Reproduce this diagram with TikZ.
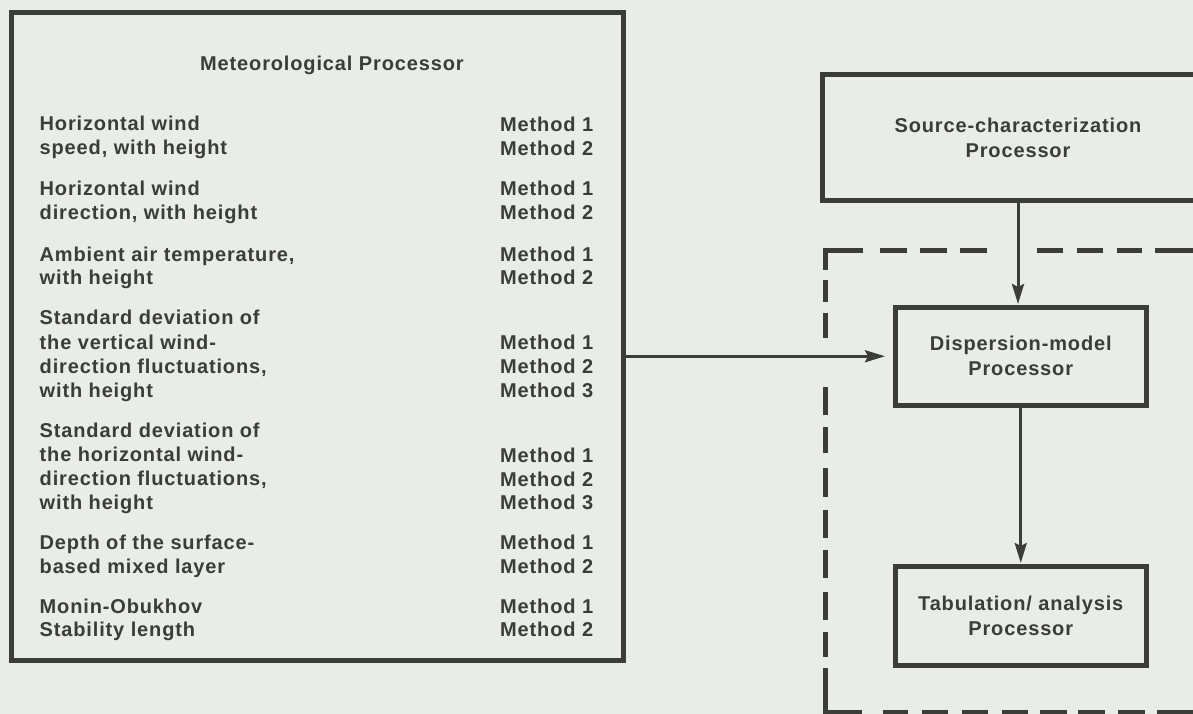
\documentclass[tikz,border=0pt]{standalone}
\usepackage{fontspec}
\newfontfamily\lab{Liberation Sans}[LetterSpace=4.3]
\usetikzlibrary{arrows.meta}
\definecolor{bg}{RGB}{233,236,231}
\definecolor{ink}{RGB}{60,60,58}
\begin{document}
\begin{tikzpicture}[x=1pt,y=-1pt,
  txt/.style={anchor=base west, inner sep=0pt, text=ink, font=\lab\bfseries\fontsize{20}{24}\selectfont},
  box/.style={draw=ink, line width=5pt, rectangle, inner sep=0pt, align=center, text=ink, font=\lab\bfseries\fontsize{20}{25}\selectfont},
  arr/.style={draw=ink, line width=3pt, -{Stealth[length=20pt,width=12pt,inset=3pt]}},
  dsh/.style={draw=ink, line width=5pt}]
\fill[bg] (0,0) rectangle (1193,714);
\useasboundingbox (0,0) rectangle (1193,714);
\clip (0,0) rectangle (1193,714);

% Meteorological processor
\node[box, minimum width=612.5pt, minimum height=647pt] (met) at (317.25,336.5) {};
\node[txt] (title) at (200,71) {Meteorological Processor};
\foreach \y/\t [count=\i] in {125/Horizontal wind, 149/{speed, with height},
  189/Horizontal wind, 213/{direction, with height},
  255/{Ambient air temperature,}, 278/with height,
  318/Standard deviation of, 343/the vertical wind-, 367/{direction fluctuations,}, 391/with height,
  431/Standard deviation of, 455/the horizontal wind-, 479/{direction fluctuations,}, 503/with height,
  543/Depth of the surface-, 567/based mixed layer,
  607/Monin-Obukhov, 630/Stability length}
  \node[txt] (L\i) at (39.5,\y+6) {\t};
\foreach \y/\t [count=\i] in {126/Method 1,150/Method 2,190/Method 1,213/Method 2,
  255/Method 1,278/Method 2,343/Method 1,367/Method 2,391/Method 3,
  456/Method 1,480/Method 2,503/Method 3,543/Method 1,567/Method 2,
  607/Method 1,630/Method 2}
  \node[txt] (M\i) at (500,\y+6) {\t};

% Right-hand processors
\node[box, minimum width=391pt, minimum height=126pt] (src) at (1018,137.5) {Source-characterization\\Processor};
\node[box, minimum width=250.5pt, minimum height=97.5pt] (disp) at (1020.75,356.25) {Dispersion-model\\Processor};
\node[box, minimum width=250.5pt, minimum height=99pt] (tab) at (1020.75,616) {Tabulation/ analysis\\Processor};

% dashed boundary
\draw[dsh] (825,270) -- (825,250.5) -- (863,250.5);
\foreach \a/\b in {880/907,920/947,960/987,1037/1063,1077/1103,1117/1142,1155/1200}
  \draw[dsh] (\a,250.5) -- (\b,250.5);
\foreach \a/\b in {280/302,313/338,387/415,427/453,468/497,510/538,550/578,592/620,632/657}
  \draw[dsh] (825,\a) -- (825,\b);
\draw[dsh] (825,668) -- (825,712.5) -- (862,712.5);
\foreach \a/\b in {883/908,922/948,962/988,1002/1028,1040/1067,1078/1105,1118/1145,1157/1200}
  \draw[dsh] (\a,712.5) -- (\b,712.5);

% connectors
\draw[arr, shorten >=1pt] (src.south) -- (src.south |- disp.north);
\draw[arr, shorten >=1pt] (disp.south) -- (tab.north);
\draw[arr, shorten >=8pt] (met.east |- disp.west) -- (disp.west);
\end{tikzpicture}
\end{document}
